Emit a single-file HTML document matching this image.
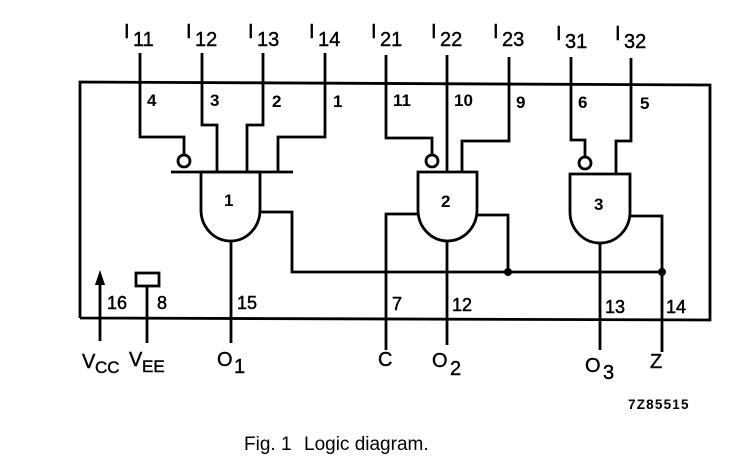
<!DOCTYPE html>
<html><head><meta charset="utf-8"><style>
html,body{margin:0;padding:0;background:#fff;}
svg{display:block;}
text{font-family:"Liberation Sans",sans-serif;fill:#000;}
</style></head><body>
<svg width="745" height="463" viewBox="0 0 745 463" xmlns="http://www.w3.org/2000/svg">
<g fill="none" stroke="#000" stroke-width="2.8" stroke-linejoin="miter">
<path d="M80,318 V82 L710,85 V320 L80,318"/>
<path d="M140,53V137H184V155"/>
<path d="M202,53V125H217V172"/>
<path d="M263,53V125H247V172"/>
<path d="M325,53V137H278V172"/>
<path d="M386,55V138H432V155"/>
<path d="M447,55V172"/>
<path d="M509,57V141H462V172"/>
<path d="M571,57V140H585V157"/>
<path d="M631,58V141H616V174"/>
<path d="M171,172H293"/>
<circle cx="184" cy="161" r="6"/>
<circle cx="432" cy="161" r="6"/>
<circle cx="585" cy="163" r="6"/>
<path d="M201,172H260V210A29.5,31 0 0 1 201,210Z"/>
<path d="M418,172H477V210A29.5,31 0 0 1 418,210Z"/>
<path d="M570,174H630V212A30,31 0 0 1 570,212Z"/>
<path d="M260,212H292V272H662"/>
<path d="M477,215H508V272"/>
<path d="M630,216H662V352"/>
<path d="M418,214H386V350"/>
<path d="M231,241V343"/>
<path d="M447,241V345"/>
<path d="M600,243V350"/>
<rect x="136" y="273" width="23" height="13"/>
<path d="M147,286V343"/>
<path d="M100,284V341"/>
</g>
<polygon points="100,270 95,285 105,285" fill="#000"/>
<circle cx="508" cy="272" r="4" fill="#000"/>
<circle cx="662" cy="272" r="4" fill="#000"/>
<g font-size="20" stroke="#000" stroke-width="0.4">
<text x="124" y="38">I</text><text x="133" y="46">11</text>
<text x="186" y="38">I</text><text x="195" y="46">12</text>
<text x="248" y="38">I</text><text x="257" y="46">13</text>
<text x="309" y="38">I</text><text x="318" y="46">14</text>
<text x="371" y="38">I</text><text x="380" y="46">21</text>
<text x="431" y="38">I</text><text x="440" y="46">22</text>
<text x="493" y="38">I</text><text x="502" y="46">23</text>
<text x="556" y="40">I</text><text x="565" y="48">31</text>
<text x="615" y="40">I</text><text x="624" y="48">32</text>
</g>
<g font-size="17" font-weight="bold">
<text x="147" y="106">4</text>
<text x="210" y="106">3</text>
<text x="272" y="107">2</text>
<text x="333" y="107">1</text>
<text x="393" y="106">11</text>
<text x="454" y="106">10</text>
<text x="516" y="108">9</text>
<text x="578" y="108">6</text>
<text x="640" y="109">5</text>
<text x="224" y="206">1</text>
<text x="441" y="207">2</text>
<text x="594" y="210">3</text>
</g>
<g font-size="18" stroke="#000" stroke-width="0.5">
<text x="107" y="309">16</text>
<text x="157" y="309">8</text>
<text x="237" y="309">15</text>
<text x="392" y="310">7</text>
<text x="452" y="311">12</text>
<text x="605" y="313">13</text>
<text x="666" y="313">14</text>
</g>
<g font-size="20" stroke="#000" stroke-width="0.4">
<text x="82" y="368">V</text><text x="95" y="373" font-size="17">CC</text>
<text x="129" y="366">V</text><text x="142" y="372" font-size="17">EE</text>
<text x="217" y="366">O</text><text x="234" y="373">1</text>
<text x="378" y="366">C</text>
<text x="432" y="367">O</text><text x="450" y="375">2</text>
<text x="585" y="372">O</text><text x="603" y="379">3</text>
<text x="650" y="368">Z</text>
</g>
<text x="628" y="409" font-size="13.5" font-weight="bold" letter-spacing="1.2">7Z85515</text>
<text x="244" y="450" font-size="19">Fig. 1</text>
<text x="304" y="450" font-size="19">Logic diagram.</text>
</svg>
</body></html>
